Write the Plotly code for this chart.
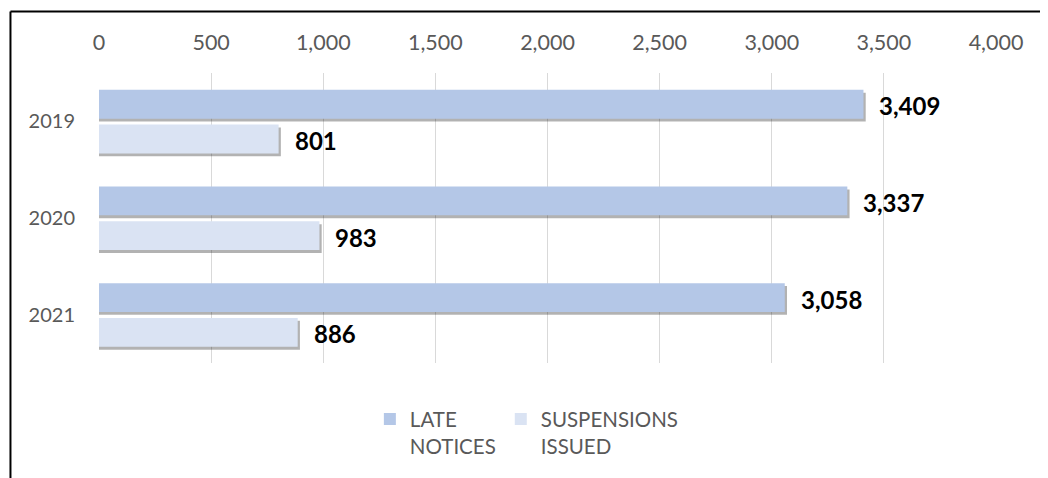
import plotly.graph_objects as go

years = ["2019", "2020", "2021"]
late_notices = [3409, 3337, 3058]
suspensions = [801, 983, 886]
tick_vals = [0, 500, 1000, 1500, 2000, 2500, 3000, 3500, 4000]
tick_text = ["0", "500", "1,000", "1,500", "2,000", "2,500", "3,000", "3,500", "4,000"]

FONT = "Lato, 'Open Sans', sans-serif"
C_LATE = "#B4C7E7"
C_SUSP = "#DAE3F3"
BAR_W = 0.298
OFF_LATE = -0.326
OFF_SUSP = 0.034
SH_DY = 0.03
SH_DX = 10

fig = go.Figure()
# soft drop shadows under the bars
for vals, off in [(late_notices, OFF_LATE), (suspensions, OFF_SUSP)]:
    fig.add_trace(go.Bar(
        y=years, x=[v + SH_DX for v in vals], orientation="h",
        offset=off + SH_DY, width=BAR_W,
        marker=dict(color="rgba(0,0,0,0.30)", line=dict(width=0)),
        showlegend=False, hoverinfo="skip"))
fig.add_trace(go.Bar(
    y=years, x=late_notices, orientation="h", name="LATE<br>NOTICES",
    offset=OFF_LATE, width=BAR_W, marker=dict(color=C_LATE, line=dict(width=0))))
fig.add_trace(go.Bar(
    y=years, x=suspensions, orientation="h", name="SUSPENSIONS<br>ISSUED",
    offset=OFF_SUSP, width=BAR_W, marker=dict(color=C_SUSP, line=dict(width=0))))

# data labels
for vals, off in [(late_notices, OFF_LATE), (suspensions, OFF_SUSP)]:
    for i, v in enumerate(vals):
        fig.add_annotation(
            x=v, y=i + off + BAR_W / 2 + 0.015, xref="x", yref="y",
            text=f"<b>{v:,}</b>", showarrow=False, xanchor="left",
            xshift=14, font=dict(family=FONT, size=24, color="#000000"))

fig.update_layout(
    width=1040, height=470,
    barmode="overlay",
    margin=dict(l=91, r=52, t=65, b=113),
    paper_bgcolor="white", plot_bgcolor="white",
    font=dict(family=FONT, size=21, color="#595959"),
    xaxis=dict(side="top", range=[0, 4000], tickvals=tick_vals, ticktext=tick_text,
               showgrid=True, gridcolor="#D9D9D9", gridwidth=1, zeroline=False,
               showline=False, ticks="", ticklabelstandoff=18,
               tickfont=dict(family=FONT, size=21.5, color="#595959")),
    yaxis=dict(autorange="reversed", showgrid=False, zeroline=False, showline=False,
               ticks="", ticklabelstandoff=23,
               tickfont=dict(family=FONT, size=20, color="#595959")),
    legend=dict(orientation="h", x=0.477, xanchor="center", y=-0.125, yanchor="top",
                valign="top", font=dict(family=FONT, size=20.5, color="#595959"),
                itemwidth=30, traceorder="normal"),
    shapes=[
        dict(type="line", xref="paper", yref="paper", x0=-0.0987, x1=1.2,
             y0=1.2123, y1=1.2123, line=dict(color="black", width=2)),
        dict(type="line", xref="paper", yref="paper", x0=-0.0987, x1=-0.0987,
             y0=1.2123, y1=-0.5, line=dict(color="black", width=2)),
    ],
)

fig.write_html("out.html")
